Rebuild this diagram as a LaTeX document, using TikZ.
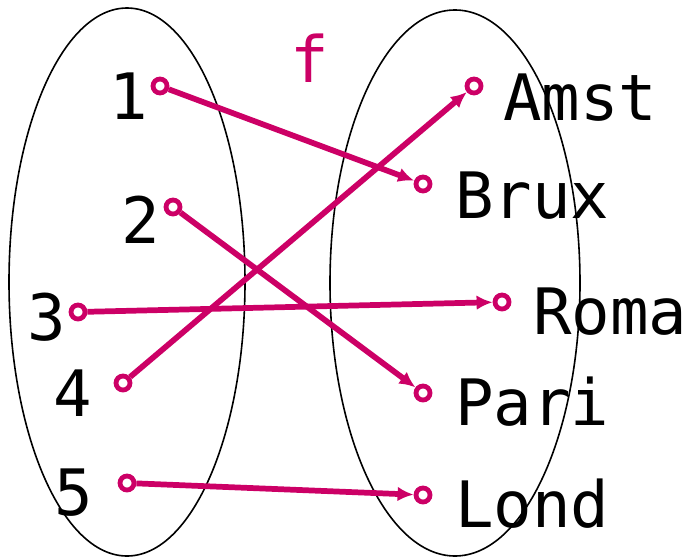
\documentclass[tikz,border=0pt]{standalone}
\usepackage{fontspec}
\setmonofont{DejaVu Sans Mono}
\usepackage{xcolor}
\usepackage{tikz}
\usetikzlibrary{positioning,arrows.meta}
\definecolor{fmag}{HTML}{CC0066}

\begin{document}
\begin{tikzpicture}[x=0.75pt, y=-0.75pt,
  pt/.style={circle, draw=fmag, line width=3.6pt, fill=white, minimum size=10.5pt, inner sep=0pt},
  lbl/.style={font=\fontsize{48}{56}\ttfamily, text=black, inner sep=0pt, anchor=base},
  maparrow/.style={-{Latex[length=12pt, width=11pt]}, draw=fmag, line width=4.3pt}
  ]
  \useasboundingbox (0,0) rectangle (692,557);
  % the two sets
  \draw[line width=1.2pt] (127,282) ellipse [x radius=118, y radius=274];
  \draw[line width=1.2pt] (455,283) ellipse [x radius=125, y radius=273];
  % domain
  \node[pt] (a1) at (160,86) {};
  \node[pt] (a2) at (173,207) {};
  \node[pt] (a3) at (78,312) {};
  \node[pt] (a4) at (123,383) {};
  \node[pt] (a5) at (127,483) {};
  \node[lbl] (n1) at (129,119) {1};
  \node[lbl] (n2) at (141,243) {2};
  \node[lbl] (n3) at (47,340) {3};
  \node[lbl] (n4) at (73,416) {4};
  \node[lbl] (n5) at (74,515) {5};
  % codomain
  \node[pt] (b1) at (474,86) {};
  \node[pt] (b2) at (423,184) {};
  \node[pt] (b3) at (502,302) {};
  \node[pt] (b4) at (423,393) {};
  \node[pt] (b5) at (423,495) {};
  \node[lbl, anchor=base west] (amst) at (503,120) {Amst};
  \node[lbl, anchor=base west] (brux) at (455,218) {Brux};
  \node[lbl, anchor=base west] (roma) at (533,334) {Roma};
  \node[lbl, anchor=base west] (pari) at (455,425) {Pari};
  \node[lbl, anchor=base west] (lond) at (455,527) {Lond};
  \node[lbl, text=fmag] (fname) at (310,82) {f};
  % the map
  \draw[maparrow] (a1) -- (b2);
  \draw[maparrow] (a2) -- (b4);
  \draw[maparrow] (a3) -- (b3);
  \draw[maparrow] (a4) -- (b1);
  \draw[maparrow] (a5) -- (b5);
\end{tikzpicture}
\end{document}
